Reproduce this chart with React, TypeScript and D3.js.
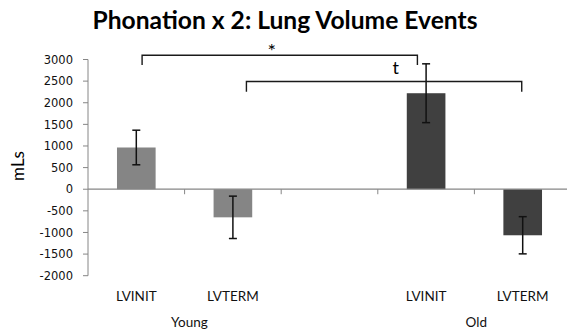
import React from "react";
import * as d3 from "d3";

// Lung volume events (mL) for the phonation task, by age group
const categories = ["LVINIT", "LVTERM", "", "LVINIT", "LVTERM"];
const groups = ["Young", "Young", "", "Old", "Old"];
const means = [965, -650, null, 2220, -1065];
const errors = [400, 490, null, 680, 430];
const groupLabels = ["Young", "Old"];
const groupLabelPos = [1.05, 4.02];
const yTicks = [3000, 2500, 2000, 1500, 1000, 500, 0, -500, -1000, -1500, -2000];

// significance brackets, in slot units along x and mL along y
const bracketLabels = ["*", "t"];
const bracketStart = [0.56, 1.64];
const bracketEnd = [3.41, 4.49];
const bracketTop = [3100, 2490];
const bracketDrop = [2870, 2255];

const W = 567;
const H = 333;
const left = 88;
const slotW = 96.6;
const font = "Lato, 'Open Sans', sans-serif";

export default function App() {
  const y = d3.scaleLinear().domain([-2000, 3000]).range([275.7, 59.5]);
  const slot = d3.scaleLinear().domain([0, 5]).range([left, left + slotW * 5]);
  const x = d3
    .scaleBand<number>()
    .domain(d3.range(categories.length))
    .range([left, left + slotW * 5])
    .paddingInner(0.6)
    .paddingOuter(0.3);
  const y0 = y(0);
  const barColor = (i: number) => (groups[i] === "Young" ? "#858585" : "#404040");

  return (
    <svg width={W} height={H} style={{ position: "absolute", left: 0, top: 0 }}>
      <rect width={W} height={H} fill="#fff" />
      <text
        x={285}
        y={29}
        textAnchor="middle"
        fontFamily={font}
        fontWeight="bold"
        fontSize={24}
        textLength={385}
        lengthAdjust="spacingAndGlyphs"
        fill="#000"
      >
        Phonation x 2: Lung Volume Events
      </text>

      {/* y axis */}
      <line x1={left} x2={left} y1={y(3000)} y2={y(-2000)} stroke="#868686" strokeWidth={1} />
      {yTicks.map((t) => (
        <g key={t}>
          <line x1={left - 5} x2={left} y1={y(t)} y2={y(t)} stroke="#868686" />
          <text
            x={73}
            y={y(t)}
            dy="0.36em"
            textAnchor="end"
            fontFamily="'DejaVu Sans', sans-serif"
            fontSize={11.5}
            fill="#111"
          >
            {t}
          </text>
        </g>
      ))}
      <text
        transform={`translate(24,166) rotate(-90)`}
        textAnchor="middle"
        fontFamily={font}
        fontSize={17}
        fill="#000"
      >
        mLs
      </text>

      {/* bars */}
      {means.map((m, i) =>
        m === null ? null : (
          <rect
            key={i}
            x={x(i)}
            width={x.bandwidth()}
            y={Math.min(y(m), y0)}
            height={Math.abs(y(m) - y0)}
            fill={barColor(i)}
          />
        )
      )}

      {/* x axis at zero */}
      <line x1={left} x2={W} y1={y0} y2={y0} stroke="#868686" strokeWidth={1.2} />
      {d3.range(1, 5).map((k) => (
        <line key={k} x1={slot(k)} x2={slot(k)} y1={y0} y2={y0 + 5} stroke="#868686" />
      ))}

      {/* error bars */}
      {means.map((m, i) => {
        if (m === null) return null;
        const e = errors[i] as number;
        const cx = (x(i) as number) + x.bandwidth() / 2;
        return (
          <g key={i} stroke="#111" strokeWidth={1.5}>
            <line x1={cx} x2={cx} y1={y(m + e)} y2={y(m - e)} />
            <line x1={cx - 4} x2={cx + 4} y1={y(m + e)} y2={y(m + e)} />
            <line x1={cx - 4} x2={cx + 4} y1={y(m - e)} y2={y(m - e)} />
          </g>
        );
      })}

      {/* brackets */}
      {bracketLabels.map((lab, k) => {
        const x1 = slot(bracketStart[k]);
        const x2 = slot(bracketEnd[k]);
        const yt = y(bracketTop[k]);
        const yd = y(bracketDrop[k]);
        return (
          <g key={k}>
            <path
              d={`M${x1},${yd}V${yt}H${x2}V${yd}`}
              fill="none"
              stroke="#1a1a1a"
              strokeWidth={1.4}
            />
            <text
              x={k === 0 ? (x1 + x2) / 2 - 8 : x2 - 126}
              y={k === 0 ? yt + 3 : yt - 8}
              textAnchor="middle"
              fontFamily={font}
              fontSize={k === 0 ? 20 : 18}
              fill="#000"
            >
              {lab}
            </text>
          </g>
        );
      })}

      {/* category labels */}
      {categories.map((c, i) =>
        c ? (
          <text
            key={i}
            x={(x(i) as number) + x.bandwidth() / 2}
            y={301}
            textAnchor="middle"
            fontFamily={font}
            fontSize={13.5}
            fill="#111"
          >
            {c}
          </text>
        ) : null
      )}
      {groupLabels.map((g, k) => (
        <text
          key={g}
          x={slot(groupLabelPos[k])}
          y={327}
          textAnchor="middle"
          fontFamily={font}
          fontSize={13.5}
          fill="#111"
        >
          {g}
        </text>
      ))}
    </svg>
  );
}
